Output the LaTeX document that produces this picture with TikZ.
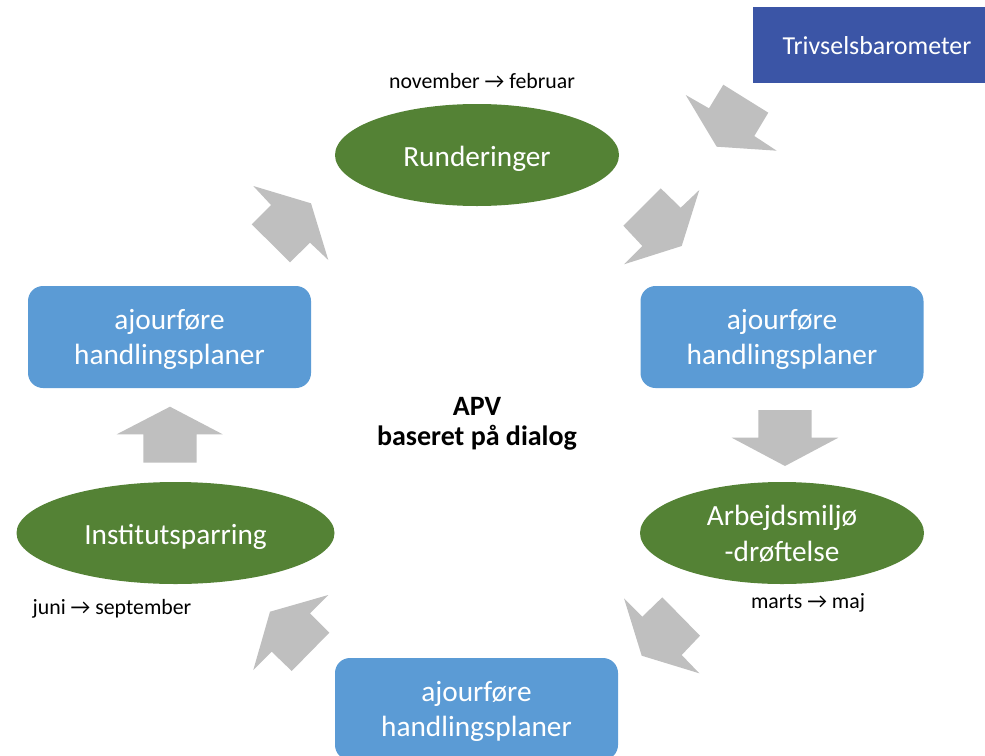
\documentclass[tikz,border=0pt]{standalone}
\usepackage{fontspec}
\setmainfont{Carlito}
\usetikzlibrary{shapes.geometric}
\definecolor{apvgreen}{HTML}{548235}
\definecolor{apvblue}{HTML}{5B9BD5}
\definecolor{apvnavy}{HTML}{3B55A6}
\definecolor{apvgray}{HTML}{BFBFBF}

\begin{document}
\begin{tikzpicture}[x=1pt, y=-1pt,
	phase/.style={ellipse, fill=apvgreen, text=white, inner sep=0pt, minimum height=102pt, align=center, font=\fontsize{29.3}{36}\selectfont},
	planbox/.style={rectangle, rounded corners=15pt, fill=apvblue, text=white, minimum width=283pt, minimum height=102pt, text depth=0pt, align=center, font=\fontsize{29.3}{34.5}\selectfont},
	period/.style={anchor=base, inner sep=0pt, font=\fontsize{21.8}{24}\selectfont},
	blockarrow/.style={fill=apvgray}]
		\useasboundingbox (0,0) rectangle (985,755);
		\clip (0,0) rectangle (985,755);

		\fill[apvnavy] (753,7) rectangle (985,83);
		\node[text=white, font=\fontsize{25.9}{30}\selectfont] (barometer) at (877,46) {Trivselsbarometer};

		\node[phase, minimum width=284pt, text height=28pt] (runder) at (477,155) {Runderinger};
		\node[phase, minimum width=284pt, text depth=-5pt] (droft) at (782,533) {Arbejdsmiljø\\-drøftelse};
		\node[phase, minimum width=318pt, text height=28pt] (sparring) at (175.5,533) {Institutsparring};

		\node[planbox] (planright) at (782,337) {ajourføre\\handlingsplaner};
		\node[planbox] (planbottom) at (476.5,709) {ajourføre\\handlingsplaner};
		\node[planbox] (planleft) at (169.5,337) {ajourføre\\handlingsplaner};

		\node[period] (novfeb) at (482,88) {november → februar};
		\node[period] (martsmaj) at (808,608) {marts → maj};
		\node[period] (junisep) at (112,614) {juni → september};

		\node[align=center, font=\bfseries\fontsize{28}{30}\selectfont] (apv) at (477,424) {APV\\baseret på dialog};

		\fill[blockarrow] (685.7,95) -- (709,108.3) -- (723.3,84.7) -- (768.3,112.7) -- (754.3,136) -- (776.7,150.7) -- (716.7,146.7) -- cycle;
		\fill[blockarrow] (660.7,188.3) -- (680.7,207.7) -- (699.3,190) -- (681.7,246) -- (624,264.3) -- (642.3,246) -- (623.3,225.7) -- cycle;
		\fill[blockarrow] (758.3,410) -- (811.7,410) -- (811.7,437.7) -- (838.3,437.7) -- (785,466) -- (731.7,437.7) -- (758.3,437.7) -- cycle;
		\fill[blockarrow] (624,598.3) -- (642.3,616.7) -- (662.3,597.3) -- (700,635.7) -- (681.7,655) -- (699.3,673.3) -- (641.7,655.7) -- cycle;
		\fill[blockarrow] (328.3,595) -- (310,613.3) -- (329.3,632.7) -- (291.7,671) -- (271.7,651.7) -- (253.3,670) -- (270,611.7) -- cycle;
		\fill[blockarrow] (170,406.7) -- (222.7,434.3) -- (196.7,434.3) -- (196.7,462.7) -- (143.3,462.7) -- (143.3,434.3) -- (116.7,434.3) -- cycle;
		\fill[blockarrow] (253.3,186) -- (311,203.3) -- (328.3,260) -- (310,242.7) -- (290,262.3) -- (251.7,224.3) -- (271,205) -- cycle;
	\end{tikzpicture}
\end{document}
